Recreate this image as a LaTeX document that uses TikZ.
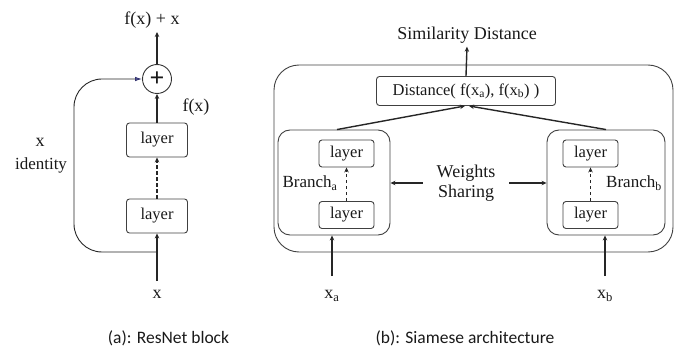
\documentclass[tikz,border=0pt]{standalone}
\usepackage{fontspec}
\setmainfont{Liberation Serif}
\newfontfamily\capfont{Carlito}
\usetikzlibrary{arrows.meta}
\begin{document}
\begin{tikzpicture}[x=1pt,y=-1pt,
  every node/.style={font=\fontsize{16.5}{18}\selectfont, text=black!90},
  big/.style={font=\fontsize{18}{22}\selectfont},
  lbox/.style={draw=black!75, rounded corners=3pt, line width=0.9pt, minimum width=61pt, minimum height=34pt, inner sep=0pt},
  sbox/.style={draw=black!75, rounded corners=3pt, line width=0.9pt, minimum width=55pt, minimum height=27pt, inner sep=0pt},
  grp/.style={draw=black!75, line width=0.9pt, inner sep=0pt},
  arr/.style={-{Stealth[length=5pt,width=4.5pt]}, line width=1.4pt, black!85},
  dasharr/.style={arr, dash pattern=on 3.5pt off 2.5pt},
  captext/.style={font=\capfont\fontsize{17.5}{20}\selectfont}
]
\useasboundingbox (0,0) rectangle (683,350);
% ---------- (a) ResNet block ----------
\node[lbox] (l2) at (157,140) {layer};
\node[lbox] (l1) at (157,216) {layer};
\node[draw=black!80, circle, line width=0.9pt, minimum size=29pt, inner sep=0pt] (plus) at (157,79) {\fontsize{26}{26}\selectfont\textbf{+}};
\node[big] (out) at (152,20) {f(x) + x};
\node[big] (in) at (157,294) {x};
\node[big] (fx) at (196,107) {f(x)};
\node[big] (idx) at (40,142) {x};
\node[font=\fontsize{17}{20}\selectfont] (idl) at (41,165) {identity};
\coordinate (split) at (157,252);
\coordinate (intop) at (157,281);
\coordinate (outtip) at (157,32);
\draw[arr] (intop) -- (l1.south);
\draw[dasharr] (l1.north) -- (l2.south);
\draw[arr] (l2.north) -- (plus.south);
\draw[arr] (plus.north) -- (outtip);
\draw[line width=0.9pt, black!85, -{Latex[length=7pt,width=4.5pt,color=blue!30!black!80,fill=blue!25!gray]}, rounded corners=28pt] (split) -- (74,252) -- (74,79) -- (plus.west);
% ---------- (b) Siamese ----------
\node[grp, rounded corners=25pt, minimum width=399pt, minimum height=187pt] (outer) at (473.5,158.5) {};
\node[grp, rounded corners=3pt, minimum width=179pt, minimum height=29pt] (dist) at (466,91) {Distance( f(x\textsubscript{a}), f(x\textsubscript{b}) )};
\node[big] (sim) at (467,35) {Similarity Distance};
\node[grp, rounded corners=12pt, minimum width=112pt, minimum height=105pt] (ba) at (334,182.5) {};
\node[grp, rounded corners=12pt, minimum width=118pt, minimum height=105pt] (bb) at (606,182.5) {};
\node[sbox] (a2) at (346.5,153.5) {layer};
\node[sbox] (a1) at (346.5,215) {layer};
\node[sbox] (b2) at (590.5,153.5) {layer};
\node[sbox] (b1) at (590.5,215) {layer};
\node[font=\fontsize{17}{20}\selectfont] (bal) at (310,183) {Branch\textsubscript{a}};
\node[font=\fontsize{17}{20}\selectfont] (bbl) at (634,183) {Branch\textsubscript{b}};
\node[align=center, inner xsep=14pt, font=\fontsize{18}{20}\selectfont] (ws) at (466,183) {Weights\\Sharing};
\node[big] (xa) at (332,296) {x\textsubscript{a}};
\node[big] (xb) at (605,296) {x\textsubscript{b}};
\coordinate (xatop) at (332,276);
\coordinate (xbtop) at (605,276);
\draw[dasharr] (a1.north) -- (a2.south);
\draw[dasharr] (b1.north) -- (b2.south);
\draw[arr] (ws.west) -- (ba.east |- ws.west);
\draw[arr] (ws.east) -- (bb.west |- ws.east);
\draw[arr] ([xshift=3pt]ba.north) -- ([xshift=-1pt]dist.south);
\draw[arr] (bb.north) -- ([xshift=3pt]dist.south);
\draw[arr] (dist.north) -- (sim.south);
\draw[arr] (xatop) -- (xatop |- ba.south);
\draw[arr] (xbtop) -- (xbtop |- bb.south);
% ---------- captions ----------
\node[captext] (capa) at (168.5,338) {(a): ResNet block};
\node[captext] (capb) at (465,338) {(b): Siamese architecture};
\end{tikzpicture}
\end{document}
